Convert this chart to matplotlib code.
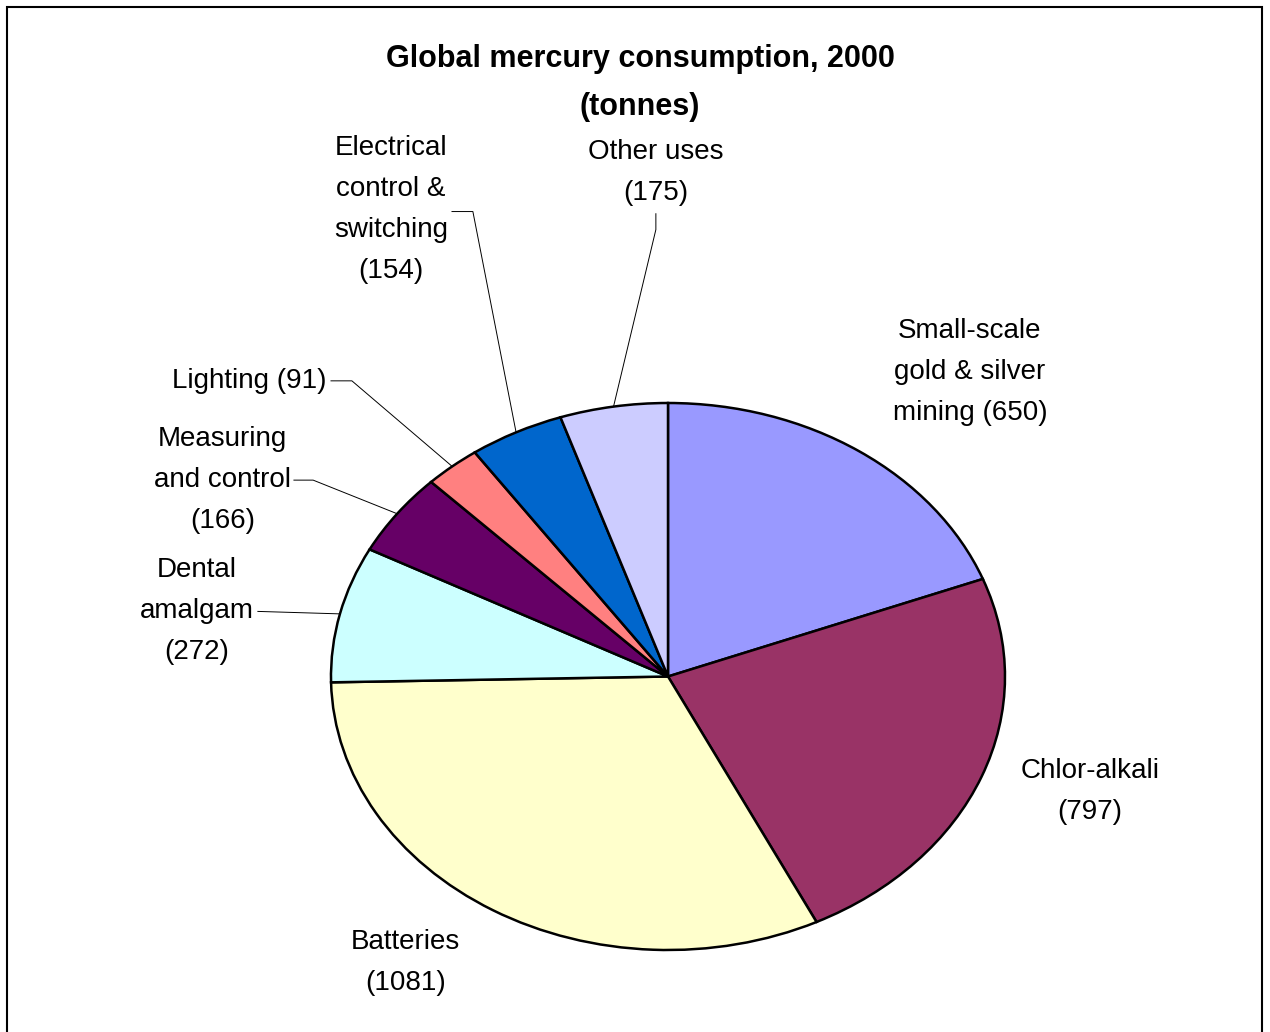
import numpy as np
import matplotlib.pyplot as plt
from matplotlib.patches import Rectangle

plt.rcParams['font.family'] = ['Liberation Sans', 'DejaVu Sans']

# data (tonnes, 2000)
labels = ['Small-scale\ngold & silver\nmining ({})', 'Chlor-alkali\n({})', 'Batteries\n({})',
          'Dental\namalgam\n({})', 'Measuring\nand control\n({})', 'Lighting ({})',
          'Electrical\ncontrol &\nswitching\n({})', 'Other uses\n({})']
values = [650, 797, 1081, 272, 166, 91, 154, 175]
colors = ['#9999FF', '#993366', '#FFFFCC', '#CCFFFF', '#660066', '#FF8080', '#0066CC', '#CCCCFF']

# label layout in pie units (x: +-1 = horizontal radius, y: +-1 = vertical radius)
label_pos = [(0.896, 1.114), (1.252, -0.421), (-0.780, -1.044), (-1.228, 0.238),
             (-1.119, 0.718), (-1.012, 1.081), (-0.653, 1.707), (-0.036, 1.720)]
label_ha = ['center', 'center', 'center', 'right', 'right', 'right', 'right', 'center']
label_va = ['center', 'center', 'center', 'center', 'center', 'center', 'center', 'bottom']
# leader lines: start point and elbow (None = no leader)
leader_start = [None, None, None, (-1.217, 0.238), (-1.110, 0.718), (-1.0, 1.081),
                (-0.641, 1.700), (-0.036, 1.692)]
leader_elbow = [None, None, None, None, (-1.053, 0.718), (-0.938, 1.081),
                (-0.579, 1.700), (-0.036, 1.634)]

fig = plt.figure(figsize=(12.7, 10.32), dpi=100)
fig.patches.append(Rectangle((7 / 1270, -0.05), 1255 / 1270, 1.05 - 7 / 1032,
                             transform=fig.transFigure, fill=False,
                             edgecolor='black', linewidth=1.5))

ax = fig.add_axes([331 / 1270, 82 / 1032, 674 / 1270, 547 / 1032])
wedges, _ = ax.pie(values, colors=colors, startangle=90, counterclock=False,
                   wedgeprops=dict(edgecolor='black', linewidth=1.8))
ax.set_aspect('auto')
ax.set_xlim(-1, 1)
ax.set_ylim(-1, 1)
ax.axis('off')

for i, w in enumerate(wedges):
    ang = np.deg2rad((w.theta1 + w.theta2) / 2)
    edge = (np.cos(ang), np.sin(ang))
    ax.text(label_pos[i][0], label_pos[i][1], labels[i].format(values[i]),
            ha=label_ha[i], va=label_va[i], multialignment='center',
            fontsize=20, linespacing=1.75, clip_on=False)
    if leader_start[i] is not None:
        pts = [leader_start[i]]
        if leader_elbow[i] is not None:
            pts.append(leader_elbow[i])
        pts.append(edge)
        xs, ys = zip(*pts)
        ax.plot(xs, ys, color='black', linewidth=0.7, clip_on=False)

fig.text(640 / 1270, 1 - 83 / 1032, 'Global mercury consumption, 2000\n(tonnes)',
         ha='center', va='center', fontsize=22, fontweight='bold', linespacing=1.75)

fig.savefig('out.png', dpi=100, facecolor='white')
